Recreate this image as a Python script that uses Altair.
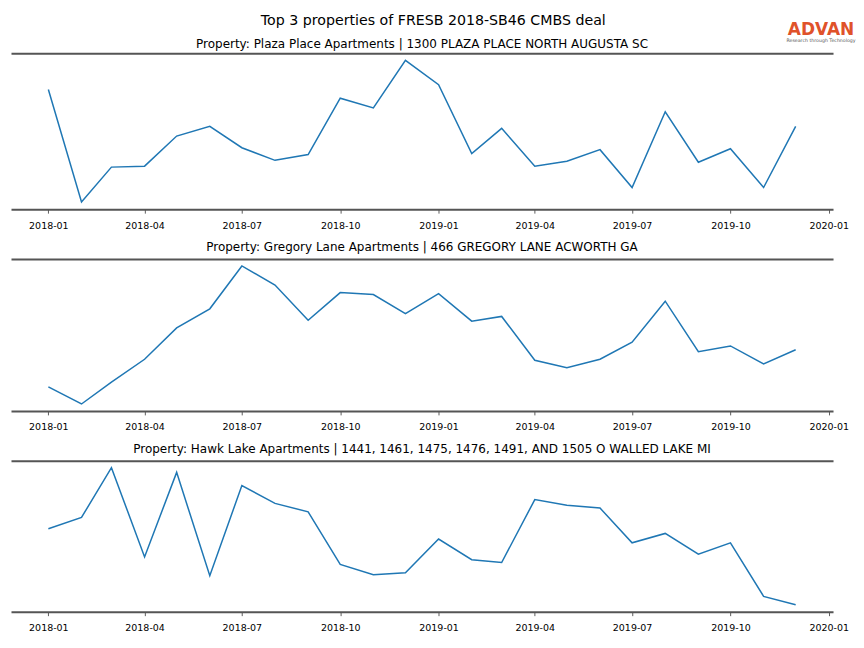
import altair as alt
import pandas as pd

months = pd.date_range("2018-01-01", "2019-12-01", freq="MS").strftime("%Y-%m-%d").tolist()

plaza = [121, 5, 41, 42, 73, 83, 61, 48, 54, 112, 102, 151,
         126, 55, 81, 42, 47, 59, 20, 98, 46, 60, 20, 83]
gregory = [20, 2, 25, 49, 82, 102, 147, 127, 90, 119, 117, 97,
           118, 89, 94, 48, 40, 49, 67, 110, 57, 63, 44, 59]
hawk = [82, 94, 147, 52, 142, 32, 128, 109, 100, 44, 33, 35,
        71, 49, 46, 113, 107, 104, 67, 77, 55, 67, 10, 1]

titles = [
    "Property: Plaza Place Apartments | 1300 PLAZA PLACE NORTH AUGUSTA SC",
    "Property: Gregory Lane Apartments | 466 GREGORY LANE ACWORTH GA",
    "Property: Hawk Lake Apartments | 1441, 1461, 1475, 1476, 1491, AND 1505 O WALLED LAKE MI",
]
tick_dates = ["2018-01-01", "2018-04-01", "2018-07-01", "2018-10-01", "2019-01-01",
              "2019-04-01", "2019-07-01", "2019-10-01", "2020-01-01"]

# matplotlib-like 5% margins
d0 = pd.Timestamp(months[0]); d1 = pd.Timestamp(months[-1])
pad = (d1 - d0) * 0.05
x_domain = [(d0 - pad).isoformat(), (d1 + pad).isoformat()]

W = 823
FONT = "DejaVu Sans"


def panel(values, title, height, logo=False):
    df = pd.DataFrame({"date": months, "value": values})
    lo, hi = min(values), max(values)
    r = hi - lo
    yscale = alt.Scale(domain=[lo - 0.05 * r, hi + 0.05 * r], nice=False, zero=False)
    xscale = alt.Scale(type="utc", domain=x_domain, nice=False)
    base = alt.Chart(df)
    line = base.mark_line(color="#1f77b4", strokeWidth=1.5).encode(
        x=alt.X("date:T", scale=xscale,
                axis=alt.Axis(values=tick_dates, format="%Y-%m", title=None, grid=False,
                              orient="bottom", labelFlush=False, labelOverlap=False)),
        y=alt.Y("value:Q", scale=yscale, axis=None),
    )
    top = base.mark_line(strokeOpacity=0).encode(
        x=alt.X("date:T", scale=xscale,
                axis=alt.Axis(orient="top", labels=False, ticks=False, title=None, grid=False,
                              domain=True, domainColor="#555555", domainWidth=2)),
        y=alt.Y("value:Q", scale=yscale, axis=None),
    )
    layers = [line, top]
    offset = 5
    if logo:
        ldf = pd.DataFrame({"a": ["ADVAN"], "b": ["Research through Technology"]})
        l1 = alt.Chart(ldf).mark_text(font=FONT, fontSize=17, fontWeight="bold",
                                      color="#E0522A", align="center", baseline="middle").encode(
            text="a:N", x=alt.value(811), y=alt.value(-23))
        l2 = alt.Chart(ldf).mark_text(font=FONT, fontSize=4.7, color="#555555",
                                      align="center", baseline="middle").encode(
            text="b:N", x=alt.value(811), y=alt.value(-12))
        layers += [l1, l2]
        offset = -30
    return alt.layer(*layers).resolve_axis(x="independent").properties(
        width=W, height=height,
        view=alt.ViewBackground(stroke="transparent", strokeWidth=0),
        title=alt.TitleParams(title, fontSize=12, font=FONT, fontWeight="normal",
                              color="black", offset=offset),
    )


chart = alt.vconcat(
    panel(plaza, titles[0], 156, logo=True),
    panel(gregory, titles[1], 152),
    panel(hawk, titles[2], 151),
    spacing=11,
).properties(
    background="white",
    padding={"left": 3, "right": 0, "top": 5, "bottom": 2},
    title=alt.TitleParams("Top 3 properties of FRESB 2018-SB46 CMBS deal", fontSize=14.2,
                          font=FONT, fontWeight="normal", color="black", anchor="middle",
                          offset=-7),
).configure_view(stroke="transparent", strokeWidth=0).configure_axis(
    labelFont=FONT, labelFontSize=9.5, labelColor="black", tickColor="#333333",
    tickSize=4, tickWidth=0.8, domainColor="#555555", domainWidth=2, labelPadding=7,
)

chart.save("out.html", embed_options={"renderer": "svg", "actions": False})
